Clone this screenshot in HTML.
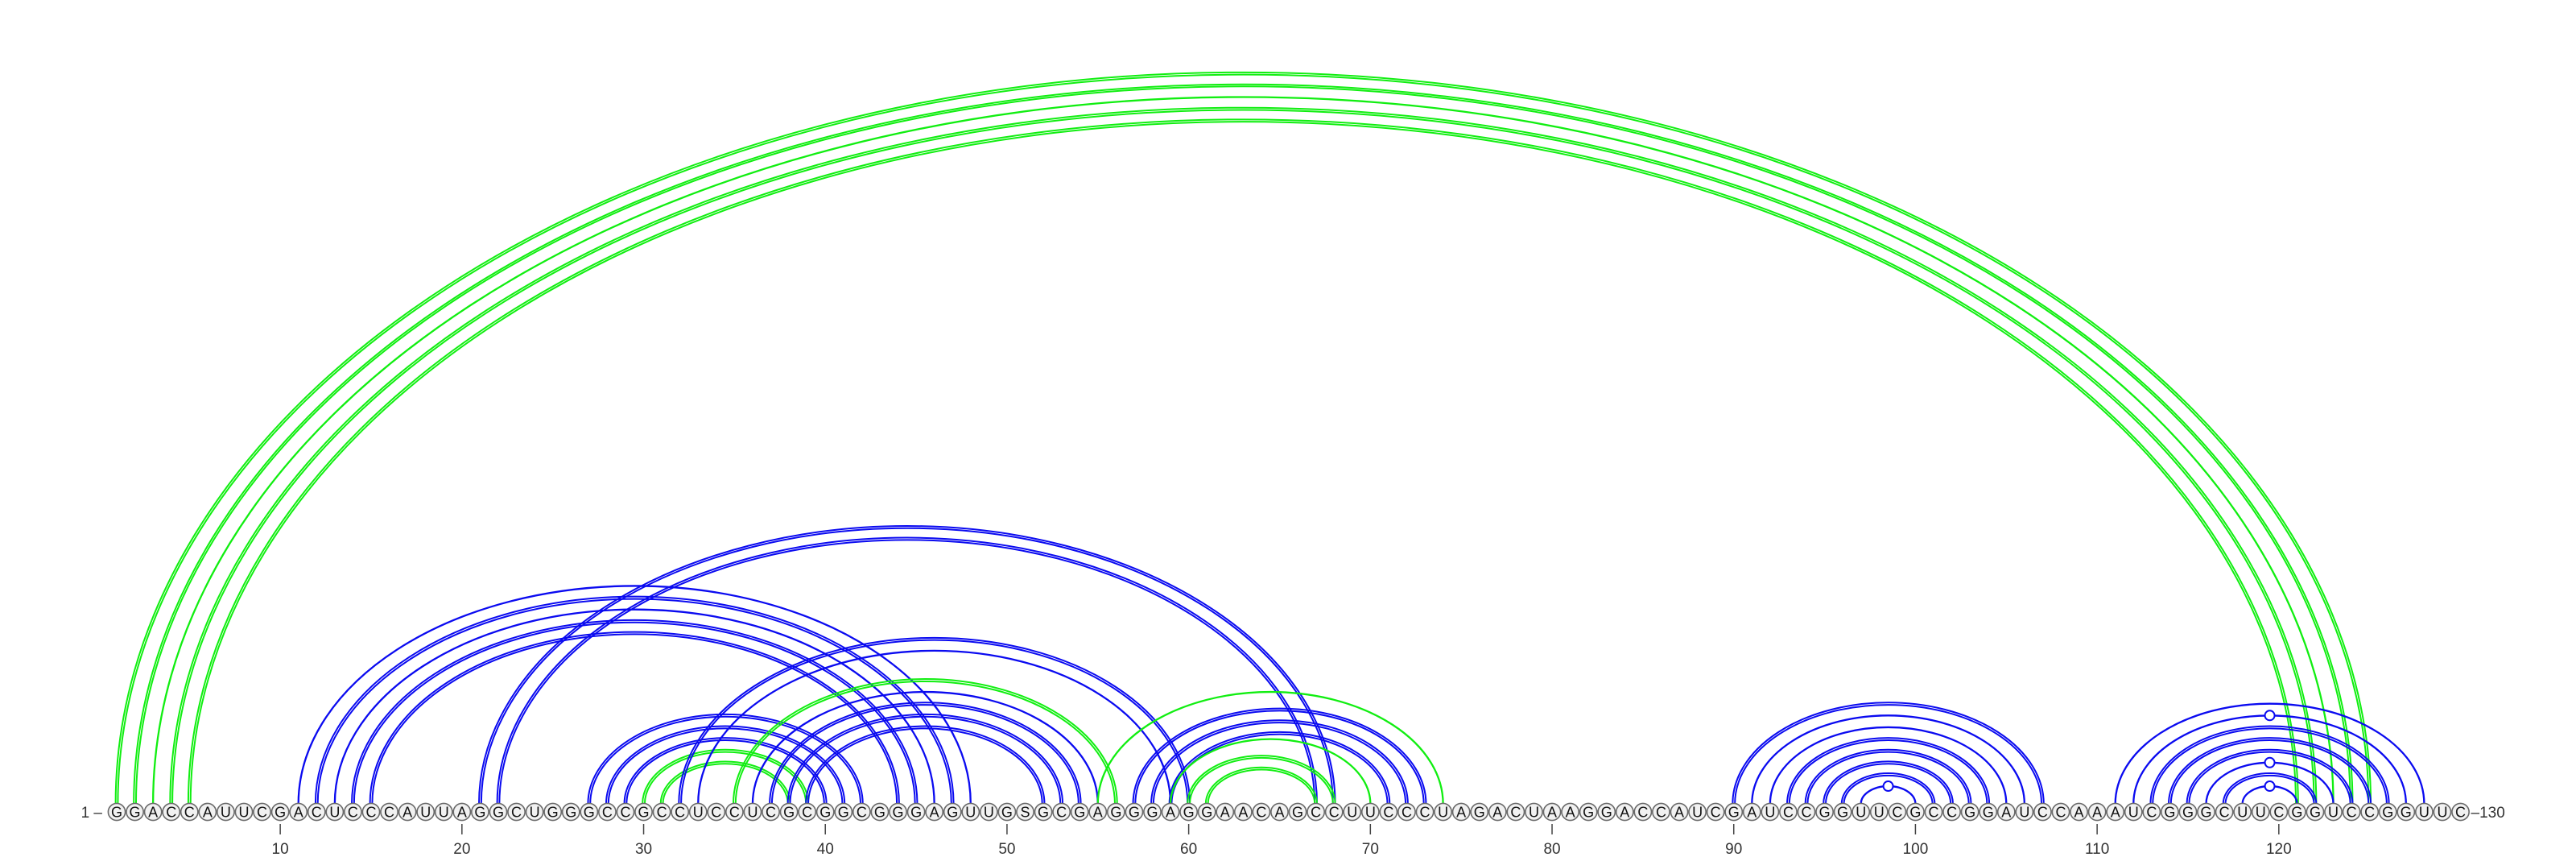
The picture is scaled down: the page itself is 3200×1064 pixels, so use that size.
<!DOCTYPE html>
<html><head><meta charset="utf-8"><title>RNA arc diagram</title>
<style>
html,body{margin:0;padding:0;background:#fff;}
svg{display:block;}
text{font-family:"Liberation Sans",sans-serif;}
</style></head>
<body>
<svg id="chart" width="3200" height="1064" viewBox="0 0 3200 1064" xmlns="http://www.w3.org/2000/svg">
<g id="arcs"></g>
<g id="seq"></g>
<g id="axis"></g>
</svg>
<script>
const sequence = "GGACCAUUCGACUCCCAUUAGGCUGGGCCGCCUCCUCGCGGCGGGAGUUGSGCGAGGGAGGAACAGCCUUCCCUAGACUAAGGACCAUCGAUCCGGUUCGCCGGAUCCAAAUCGGGCUUCGGUCCGGUUC";
const pairStart = [1,2,3,4,5, 11,12,13,14,15, 21,22, 27,28,29,30,31, 32,33, 35, 36,37,38,39, 55,57,58,59,59,60,61, 90,91,92,93,94,95,96,97, 111,112,113,114,115,116,117,118];
const pairEnd   = [125,124,123,122,121, 48,47,46,45,44, 68,67, 42,41,40,39,38, 60,59, 56, 55,54,53,52, 74,73,72,71,70,68,67, 107,106,105,104,103,102,101,100, 128,127,126,125,124,123,122,121];
const pairColor = ["g","g","g","g","g", "b","b","b","b","b", "b","b", "b","b","b","g","g", "b","b", "g", "b","b","b","b", "g","b","b","b","g","g","g", "b","b","b","b","b","b","b","b", "b","b","b","b","b","b","b","b"];
const pairDouble = [1,1,0,1,1, 0,1,0,1,1, 1,1, 1,1,1,1,1, 1,0, 1, 0,1,1,1, 0,1,1,1,0,1,1, 1,0,0,1,1,1,1,0, 0,0,1,1,1,0,1,0];
const markerPairs = [[97,100],[112,127],[116,123],[118,121]];
const tickValues = [10,20,30,40,50,60,70,80,90,100,110,120];

const NS = "http://www.w3.org/2000/svg";
const X0 = 145, DX = 22.57, BASE = 1008, ARC_Y = 998, RATIO = 0.648;
function xPos(i){ return X0 + (i-1)*DX; }
const COLORS = {b:"#0a0af0", g:"#11ee11"};

const arcsG = document.getElementById("arcs");
function arcPath(x1,x2,rx,ry){ return "M"+x1+" "+ARC_Y+" A"+rx+" "+ry+" 0 0 1 "+x2+" "+ARC_Y; }
for(let k=0;k<pairStart.length;k++){
  const a = xPos(pairStart[k]), b = xPos(pairEnd[k]);
  const cx=(a+b)/2, rx=(b-a)/2;
  const offs = pairDouble[k] ? [-1.4,1.4] : [0];
  offs.forEach(o=>{
    const r = rx+o, ry = RATIO*rx+o;
    const p = document.createElementNS(NS,"path");
    p.setAttribute("d", arcPath(cx-r, cx+r, r, ry));
    p.setAttribute("fill","none");
    p.setAttribute("stroke", COLORS[pairColor[k]]);
    p.setAttribute("stroke-width", pairDouble[k] ? "2.0" : "2.3");
    
    
    arcsG.appendChild(p);
  });
}
markerPairs.forEach(m=>{
  const a=xPos(m[0]), b=xPos(m[1]);
  const c=document.createElementNS(NS,"circle");
  c.setAttribute("cx",(a+b)/2);
  c.setAttribute("cy",ARC_Y-RATIO*(b-a)/2);
  c.setAttribute("r",6);
  c.setAttribute("fill","#fff");
  c.setAttribute("stroke","#0a0af0");
  c.setAttribute("stroke-width","2");
  
  
  arcsG.appendChild(c);
});

const seqG = document.getElementById("seq");
for(let i=1;i<=sequence.length;i++){
  const g=document.createElementNS(NS,"g");
  
  
  const c=document.createElementNS(NS,"circle");
  c.setAttribute("cx",xPos(i)); c.setAttribute("cy",BASE); c.setAttribute("r",10.6);
  c.setAttribute("fill","#f1f1f1"); c.setAttribute("stroke","#6a6a6a"); c.setAttribute("stroke-width","1.6");
  const t=document.createElementNS(NS,"text");
  t.setAttribute("x",xPos(i)); t.setAttribute("y",BASE+6.5);
  t.setAttribute("text-anchor","middle"); t.setAttribute("font-size","18");
  t.setAttribute("fill","#111");
  t.textContent=sequence[i-1];
  g.appendChild(c); g.appendChild(t); seqG.appendChild(g);
}

const axisG = document.getElementById("axis");
tickValues.forEach(v=>{
  const l=document.createElementNS(NS,"line");
  l.setAttribute("x1",xPos(v)); l.setAttribute("x2",xPos(v));
  l.setAttribute("y1",1023); l.setAttribute("y2",1036);
  l.setAttribute("stroke","#444"); l.setAttribute("stroke-width","1.5");
  
  
  axisG.appendChild(l);
  const t=document.createElementNS(NS,"text");
  t.setAttribute("x",xPos(v)); t.setAttribute("y",1060);
  t.setAttribute("text-anchor","middle"); t.setAttribute("font-size","19"); t.setAttribute("fill","#333");
  t.textContent=v;
  
  
  axisG.appendChild(t);
});
const s=document.createElementNS(NS,"text");
s.setAttribute("x",xPos(1)-18); s.setAttribute("y",BASE+7);
s.setAttribute("text-anchor","end"); s.setAttribute("font-size","19"); s.setAttribute("fill","#333");
s.textContent="1 \u2013";


axisG.appendChild(s);
const e=document.createElementNS(NS,"text");
e.setAttribute("x",xPos(sequence.length)+13); e.setAttribute("y",BASE+7);
e.setAttribute("font-size","19"); e.setAttribute("fill","#333");
e.textContent="\u2013130";


axisG.appendChild(e);
</script>
</body></html>
